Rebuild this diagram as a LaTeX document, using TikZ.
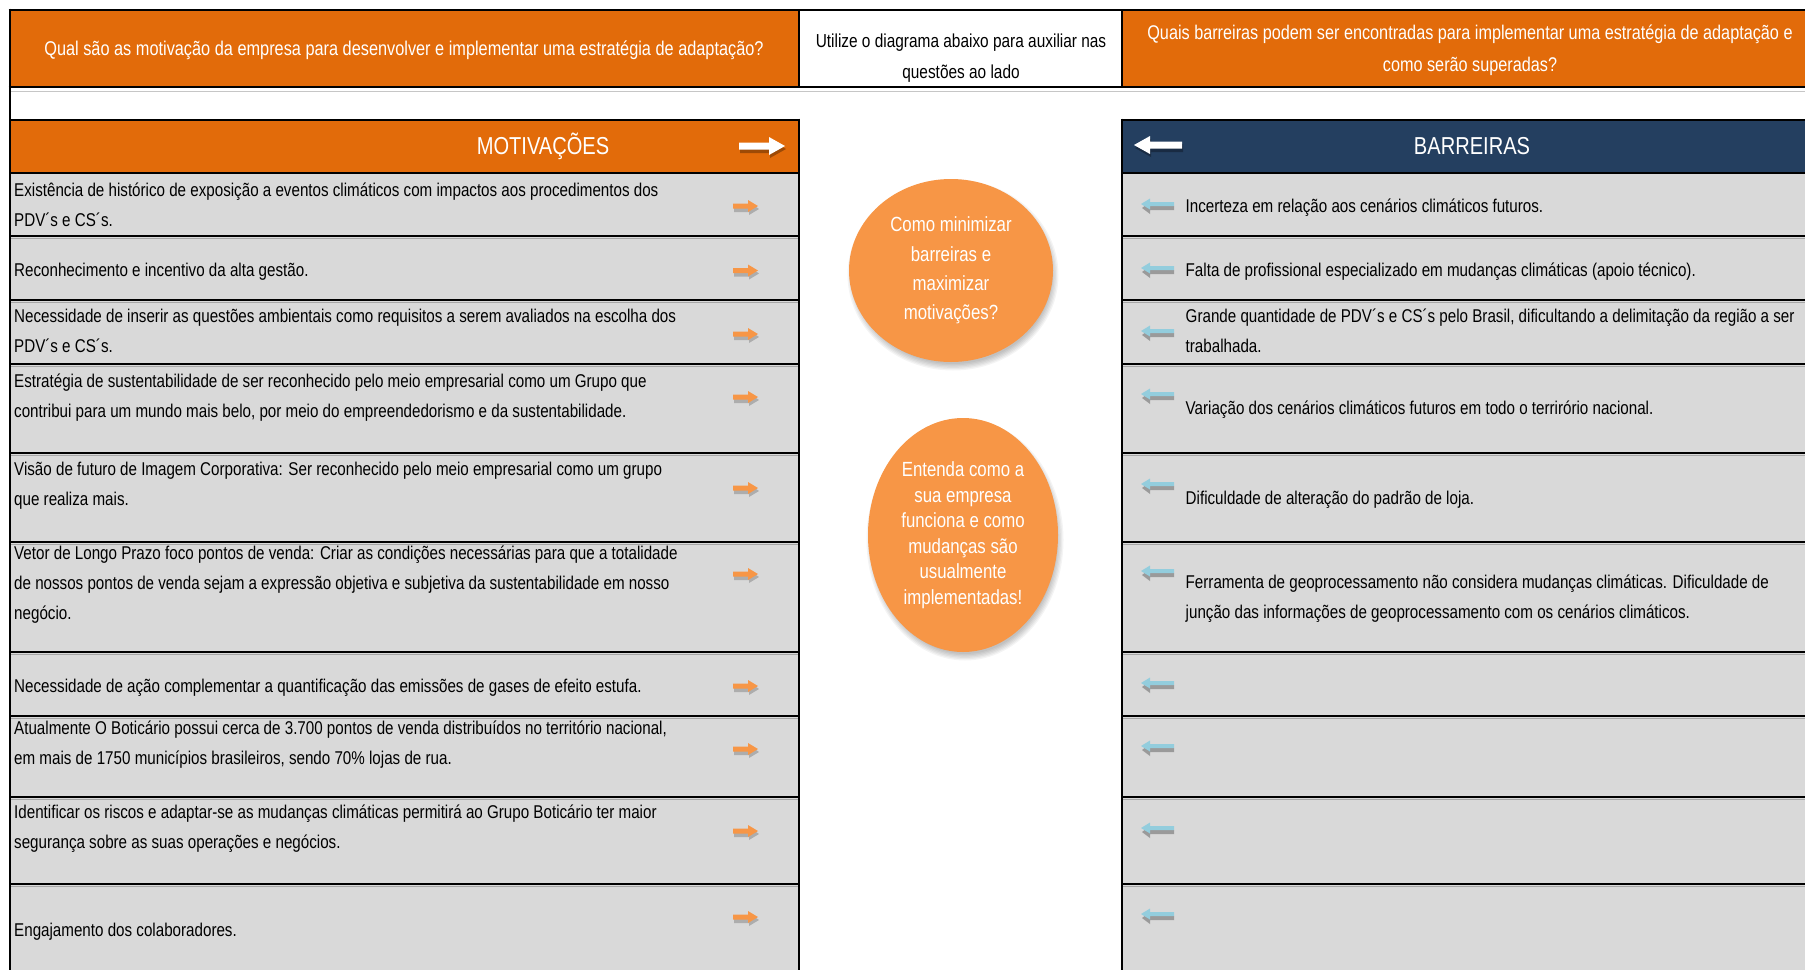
\documentclass[tikz,border=0pt]{standalone}
\usepackage{fontspec}
\setmainfont{Liberation Sans}[FakeStretch=0.82]
\usetikzlibrary{shapes.geometric}
\definecolor{hdrorange}{HTML}{E26B0A}
\definecolor{hdrnavy}{HTML}{243F60}
\definecolor{bubble}{HTML}{F79646}
\definecolor{cellgray}{HTML}{D9D9D9}
\definecolor{arrowblue}{HTML}{93CDDD}
\definecolor{arroworange}{HTML}{F79646}

\tikzset{
  gridline/.style={line width=2.8pt, black},
  rowtext/.style={anchor=base west, text width=#1, align=flush left, inner sep=0pt,
    font=\fontsize{18.5}{30}\selectfont, text=black},
  question/.style={align=center, inner sep=0pt, text=white,
    font=\fontsize{19.8}{32}\selectfont},
  header/.style={inner sep=0pt, text=white, font=\fontsize{24.5}{28}\selectfont},
  bubblenode/.style={ellipse, fill=bubble, inner sep=0pt, align=center, text=white},
  % small orange arrow pointing right
  rightarrow/.pic={
    \fill[black, opacity=.2] (-12,-1) -- (3,-1) -- (3,-4) -- (13,3) -- (3,9) -- (3,6) -- (-12,6) -- cycle;
    \fill[arroworange] (-13,-2.5) -- (2,-2.5) -- (2,-6) -- (12,0) -- (2,6) -- (2,2.5) -- (-13,2.5) -- cycle;
  },
  % small blue arrow pointing left
  leftarrow/.pic={
    \fill[gray, opacity=.7] (-15,4) -- (-7,-2) -- (-7,2) -- (17,2) -- (17,6) -- (-7,6) -- (-7,10) -- cycle;
    \fill[arrowblue] (-16,0) -- (-7,-5.5) -- (-7,-2) -- (17,-2) -- (17,2) -- (-7,2) -- (-7,5.5) -- cycle;
  },
  % white arrows on the header bars
  hdrright/.pic={
    \fill[black, opacity=.3] (-22,-1) -- (8,-1) -- (8,-6) -- (24,3) -- (8,12) -- (8,7) -- (-22,7) -- cycle;
    \fill[white] (-23,-3.5) -- (7,-3.5) -- (7,-9) -- (23,0) -- (7,9) -- (7,3.5) -- (-23,3.5) -- cycle;
  },
  hdrleft/.pic={
    \fill[black, opacity=.3] (-23,3) -- (-7,-6) -- (-7,-1) -- (25,-1) -- (25,7) -- (-7,7) -- (-7,12) -- cycle;
    \fill[white] (-24,0) -- (-8,-9) -- (-8,-3.5) -- (24,-3.5) -- (24,3.5) -- (-8,3.5) -- (-8,9) -- cycle;
  }
}

\begin{document}
\begin{tikzpicture}[x=1pt, y=-1pt]
\useasboundingbox (0,0) rectangle (1805,970);
\fill[white] (0,0) rectangle (1805,970);

% coloured areas
\fill[hdrorange] (10,10) rectangle (799,87);
\fill[hdrorange] (1122,10) rectangle (1805,87);
\fill[hdrorange] (10,120) rectangle (799,173);
\fill[hdrnavy] (1122,120) rectangle (1805,173);
\fill[cellgray] (10,173) rectangle (799,970);
\fill[cellgray] (1122,173) rectangle (1805,970);

% faint grid line under the question bar
\draw[gray!45, line width=1pt] (10,91) -- (1805,91);

% row separators with a light line beneath
\foreach \yy in {236,300,364,453,542,652,716,797,884} {
  \draw[gray!70, line width=1pt] (10,\yy+2.5) -- (799,\yy+2.5);
  \draw[gray!70, line width=1pt] (1122,\yy+2.5) -- (1805,\yy+2.5);
  \draw[gridline] (10,\yy) -- (799,\yy);
  \draw[gridline] (1122,\yy) -- (1805,\yy);
}

% table frame
\draw[gridline] (8.6,10) -- (1805,10);
\draw[gridline] (8.6,87) -- (1805,87);
\draw[gridline] (10,8.6) -- (10,970);
\draw[gridline] (799,10) -- (799,87);
\draw[gridline] (1122,10) -- (1122,87);
\draw[gridline] (10,120) -- (799,120);
\draw[gridline] (1122,120) -- (1805,120);
\draw[gridline] (10,173) -- (799,173);
\draw[gridline] (1122,173) -- (1805,173);
\draw[gridline] (799,118.6) -- (799,970);
\draw[gridline] (1122,118.6) -- (1122,970);

% questions on the top bar
\node[question, font=\fontsize{19.9}{32}\selectfont] (qleft) at (404,50) {Qual são as motivação da empresa para desenvolver e implementar uma estratégia de adaptação?};
\node[question, text=black, font=\fontsize{18.8}{31}\selectfont] (qmid) at (961,58) {Utilize o diagrama abaixo para auxiliar nas\\questões ao lado};
\node[question] (qright) at (1470,50.6) {Quais barreiras podem ser encontradas para implementar uma estratégia de adaptação e\\como serão superadas?};

% column headers
\node[header] (hmot) at (543,146) {MOTIVAÇÕES};
\node[header] (hbar) at (1472,146) {BARREIRAS};
\pic at (762,146) {hdrright};
\pic at (1158,145) {hdrleft};

% motivations
\node[rowtext=780pt] (m1) at (14,196) {Existência de histórico de exposição a eventos climáticos com impactos aos procedimentos dos\\PDV´s e CS´s.};
\node[rowtext=780pt] (m2) at (14,276.5) {Reconhecimento e incentivo da alta gestão.};
\node[rowtext=780pt] (m3) at (14,322.5) {Necessidade de inserir as questões ambientais como requisitos a serem avaliados na escolha dos\\PDV´s e CS´s.};
\node[rowtext=780pt] (m4) at (14,387) {Estratégia de sustentabilidade de ser reconhecido pelo meio empresarial como um Grupo que\\contribui para um mundo mais belo, por meio do empreendedorismo e da sustentabilidade.};
\node[rowtext=780pt] (m5) at (14,475.6) {Visão de futuro de Imagem Corporativa: Ser reconhecido pelo meio empresarial como um grupo\\que realiza mais.};
\node[rowtext=780pt] (m6) at (14,559.6) {Vetor de Longo Prazo foco pontos de venda: Criar as condições necessárias para que a totalidade\\de nossos pontos de venda sejam a expressão objetiva e subjetiva da sustentabilidade em nosso\\negócio.};
\node[rowtext=780pt] (m7) at (14,692) {Necessidade de ação complementar a quantificação das emissões de gases de efeito estufa.};
\node[rowtext=780pt] (m8) at (14,734.6) {Atualmente O Boticário possui cerca de 3.700 pontos de venda distribuídos no território nacional,\\em mais de 1750 municípios brasileiros, sendo 70\% lojas de rua.};
\node[rowtext=780pt] (m9) at (14,818.6) {Identificar os riscos e adaptar-se as mudanças climáticas permitirá ao Grupo Boticário ter maior\\segurança sobre as suas operações e negócios.};
\node[rowtext=780pt] (m10) at (14,936) {Engajamento dos colaboradores.};

\foreach \yy in {206,270.5,334,397,488,574,686,749,831,917}
  \pic at (746,\yy) {rightarrow};

% barriers
\node[rowtext=615pt] (b1) at (1185.5,212) {Incerteza em relação aos cenários climáticos futuros.};
\node[rowtext=615pt] (b2) at (1185.5,276) {Falta de profissional especializado em mudanças climáticas (apoio técnico).};
\node[rowtext=615pt] (b3) at (1185.5,322.5) {Grande quantidade de PDV´s e CS´s pelo Brasil, dificultando a delimitação da região a ser\\trabalhada.};
\node[rowtext=615pt] (b4) at (1185.5,414.6) {Variação dos cenários climáticos futuros em todo o terrirório nacional.};
\node[rowtext=615pt] (b5) at (1185.5,504) {Dificuldade de alteração do padrão de loja.};
\node[rowtext=615pt] (b6) at (1185.5,588.4) {Ferramenta de geoprocessamento não considera mudanças climáticas. Dificuldade de\\junção das informações de geoprocessamento com os cenários climáticos.};

\foreach \yy in {204,268,331,394,484,571,683,746,828,914}
  \pic at (1157,\yy) {leftarrow};

% soft shadows of the bubbles
\foreach \k in {0,...,5} {
  \fill[black, opacity=.045] (953,275) ellipse ({99+1.3*\k} and {89+1.3*\k});
  \fill[black, opacity=.045] (965,540) ellipse ({92+1.3*\k} and {114+1.3*\k});
}

% bubbles
\node[bubblenode, minimum width=204pt, minimum height=183pt,
  font=\fontsize{20.5}{29.4}\selectfont] (c1) at (951,270.5)
  {Como minimizar\\barreiras e\\maximizar\\motivações?};
\node[bubblenode, minimum width=190pt, minimum height=234pt,
  font=\fontsize{20.5}{25.5}\selectfont] (c2) at (963,535)
  {Entenda como a\\sua empresa\\funciona e como\\mudanças são\\usualmente\\implementadas!};
\end{tikzpicture}
\end{document}
